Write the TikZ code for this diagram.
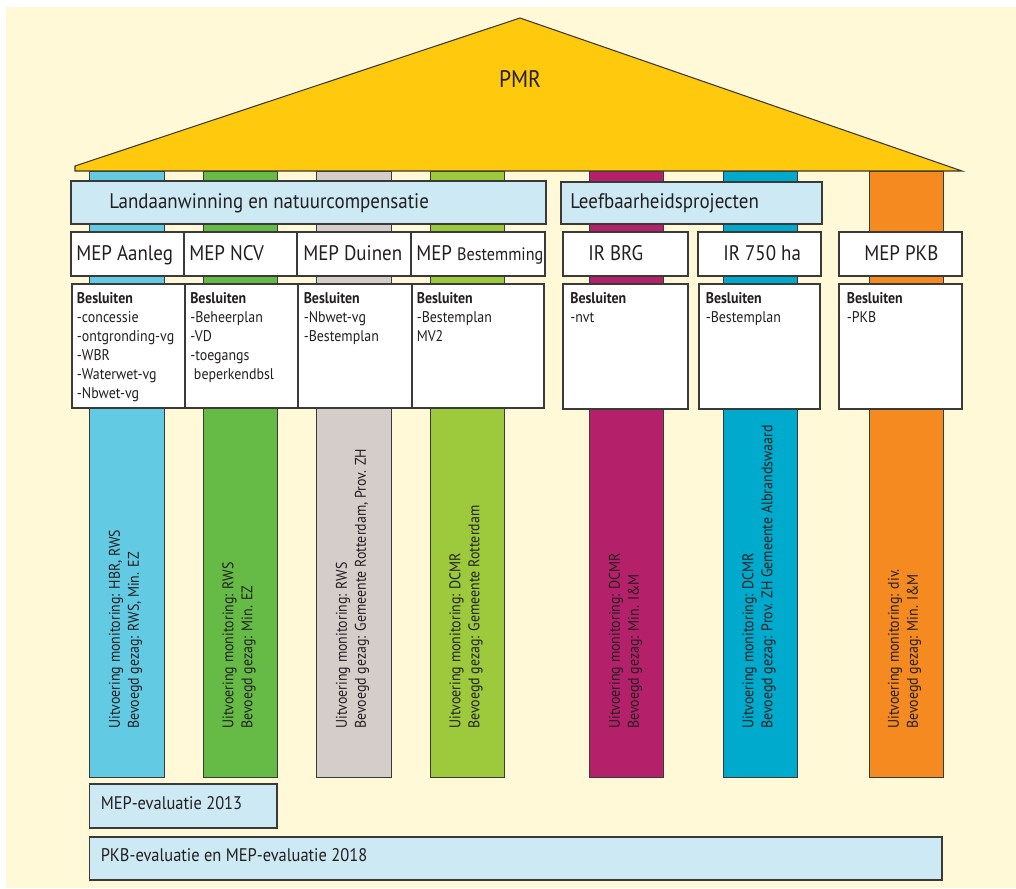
\documentclass[tikz,border=0pt]{standalone}
\usepackage{fontspec}
\setmainfont{PT Sans}[FakeStretch=0.9]
\usetikzlibrary{fit}
\definecolor{bgC}{HTML}{FFF9D7}
\definecolor{roofC}{HTML}{FFC90D}
\definecolor{cyanP}{HTML}{62CAE2}
\definecolor{greenP}{HTML}{66BB47}
\definecolor{greyP}{HTML}{D5CDCA}
\definecolor{lgreenP}{HTML}{9DCA3C}
\definecolor{magP}{HTML}{B42069}
\definecolor{blueP}{HTML}{00AACD}
\definecolor{orangeP}{HTML}{F48A20}
\definecolor{lblueC}{HTML}{CCE9F4}
\definecolor{lineC}{HTML}{3A3A3A}
\definecolor{txtC}{HTML}{231F20}
\begin{document}
\begin{tikzpicture}[x=0.75pt,y=-0.75pt,
  box/.style={draw=lineC, line width=0.9pt, inner sep=0pt, fill=white},
  hbox/.style={box, fill=lblueC},
  pillar/.style={draw=lineC, line width=0.7pt, inner sep=0pt},
  lbl/.style={inner sep=0pt, text=txtC, anchor=base west},
  hdr/.style={lbl, font=\fontsize{15.8}{18}\selectfont},
  mep/.style={lbl, font=\fontsize{15.8}{18}\selectfont},
  bes/.style={inner sep=0pt, text=txtC, anchor=north west, align=left, font=\fontsize{11.6}{14.25}\selectfont},
  vtxt/.style={inner sep=0pt, text=txtC, anchor=west, rotate=90, align=left, font=\fontsize{11.6}{14.25}\selectfont},
  evl/.style={lbl, font=\fontsize{13.7}{16}\selectfont}
]
\useasboundingbox (0,0) rectangle (1016,888);
\fill[bgC] (6,7) rectangle (1016,888);

% pillars
\node[pillar, fill=cyanP,   fit={(89.3,171)(164,777)}] (p1) {};
\node[pillar, fill=greenP,  fit={(203,171)(277,777)}] (p2) {};
\node[pillar, fill=greyP,   fit={(316,171)(391,777)}] (p3) {};
\node[pillar, fill=lgreenP, fit={(430,171)(504,777)}] (p4) {};
\node[pillar, fill=magP,    fit={(589,171)(663,777)}] (p5) {};
\node[pillar, fill=blueP,   fit={(723,171)(797,777)}] (p6) {};
\node[pillar, fill=orangeP, fit={(869,171)(943,777)}] (p7) {};

% roof
\draw[fill=roofC, draw=lineC, line width=0.8pt, line join=miter] (75,166) -- (520,18) -- (962,171) -- (75,171) -- cycle;
\node[inner sep=0pt, text=txtC, anchor=base, font=\fontsize{18}{20}\selectfont] (pmr) at (520,87.7) {PMR};

% header boxes
\node[hbox, fit={(71,181)(546,224)}] (land) {};
\node[hdr] (landt) at (109,208) {Landaanwinning en natuurcompensatie};
\node[hbox, fit={(561,182)(822,224)}] (leef) {};
\node[hdr] (leeft) at (570,208) {Leefbaarheidsprojecten};

% MEP row
\node[box, fit={(71,232)(184,276)}] (m1) {};
\node[box, fit={(184,232)(297,276)}] (m2) {};
\node[box, fit={(297,232)(411,276)}] (m3) {};
\node[box, fit={(411,232)(545,276)}] (m4) {};
\node[box, fit={(563,232)(688,276)}] (m5) {};
\node[box, fit={(698,232)(821,276)}] (m6) {};
\node[box, fit={(839,232)(962,276)}] (m7) {};
\node[mep] (m1t) at (76,260) {MEP Aanleg};
\node[mep] (m2t) at (189,260) {MEP NCV};
\node[mep] (m3t) at (303,260) {MEP Duinen};
\node[mep] (m4t) at (416,260) {MEP {\fontsize{13.5}{15}\selectfont Bestemming}};
\node[mep] (m5t) at (588,260) {IR BRG};
\node[mep] (m6t) at (723,260) {IR 750 ha};
\node[mep] (m7t) at (864,260) {MEP PKB};

% Besluiten row
\node[box, fit={(72,284)(185,408)}] (b1) {};
\node[box, fit={(185,284)(298,408)}] (b2) {};
\node[box, fit={(298,284)(412,408)}] (b3) {};
\node[box, fit={(412,284)(544,408)}] (b4) {};
\node[box, fit={(563,284)(688,409)}] (b5) {};
\node[box, fit={(699,284)(820,409)}] (b6) {};
\node[box, fit={(839,284)(962,409)}] (b7) {};
\node[bes] (b1t) at (76.7,292.5) {\textbf{Besluiten}\\-concessie\\-ontgronding-vg\\-WBR\\-Waterwet-vg\\-Nbwet-vg};
\node[bes] (b2t) at (190,292.5) {\textbf{Besluiten}\\-Beheerplan\\-VD\\-toegangs\\\ beperkendbsl};
\node[bes] (b3t) at (303.5,292.5) {\textbf{Besluiten}\\-Nbwet-vg\\-Bestemplan};
\node[bes] (b4t) at (416.5,292.5) {\textbf{Besluiten}\\-Bestemplan\\MV2};
\node[bes] (b5t) at (570,292.5) {\textbf{Besluiten}\\-nvt};
\node[bes] (b6t) at (705.5,292.5) {\textbf{Besluiten}\\-Bestemplan};
\node[bes] (b7t) at (846.5,292.5) {\textbf{Besluiten}\\-PKB};

% vertical texts
\node[vtxt] (v1) at (125.5,729) {Uitvoering monitoring: HBR, RWS\\Bevoegd gezag: RWS, Min. EZ};
\node[vtxt] (v2) at (239,729) {Uitvoering monitoring: RWS\\Bevoegd gezag: Min. EZ};
\node[vtxt] (v3) at (352.5,729) {Uitvoering monitoring: RWS\\Bevoegd gezag: Gemeente Rotterdam, Prov. ZH};
\node[vtxt] (v4) at (466,729) {Uitvoering monitoring: DCMR\\Bevoegd gezag: Gemeente Rotterdam};
\node[vtxt] (v5) at (625.5,729) {Uitvoering monitoring: DCMR\\Bevoegd gezag: Min. I\&M};
\node[vtxt] (v6) at (759,729) {Uitvoering monitoring: DCMR\\Bevoegd gezag: Prov. ZH Gemeente Albrandswaard};
\node[vtxt] (v7) at (904.5,729) {Uitvoering monitoring: div.\\Bevoegd gezag: Min. I\&M};

% evaluations
\node[hbox, fit={(89.4,784)(277,828)}] (e1) {};
\node[evl] (e1t) at (100.5,809) {MEP-evaluatie 2013};
\node[hbox, fit={(89.4,837)(942,880)}] (e2) {};
\node[evl] (e2t) at (100.5,861.5) {PKB-evaluatie en MEP-evaluatie 2018};
\end{tikzpicture}
\end{document}
